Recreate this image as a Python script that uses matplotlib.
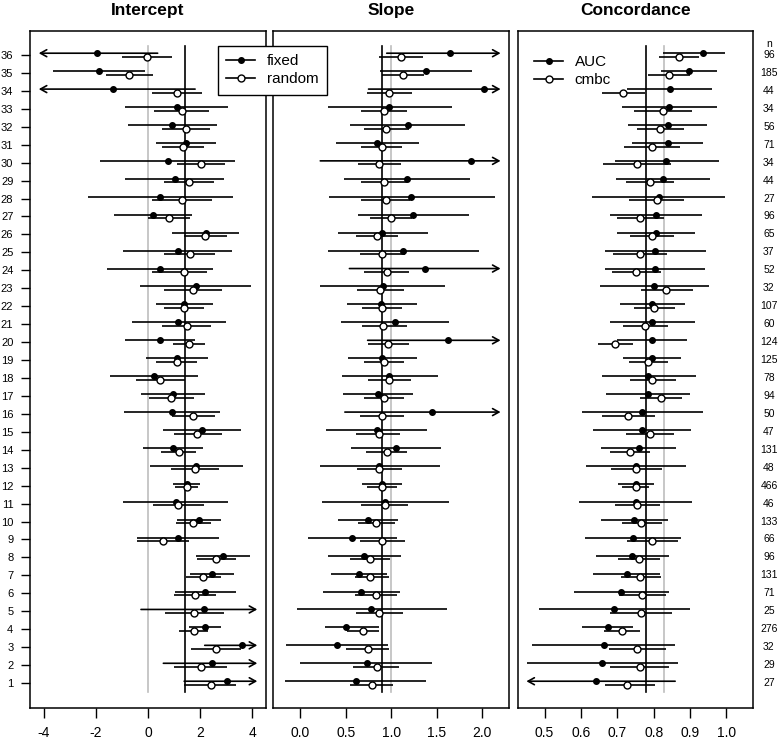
"""Forest-style plot of intercept, slope and concordance per study."""

import matplotlib

matplotlib.use("Agg")
import matplotlib.pyplot as plt
from matplotlib.lines import Line2D

plt.rcParams["font.family"] = ["Liberation Sans", "DejaVu Sans"]

# rows listed from top (36) to bottom (1)
rows = list(range(36, 0, -1))
n_obs = [96, 185, 44, 34, 56, 71, 34, 44, 27, 96, 65, 37, 52, 32, 107, 60, 124, 125,
         78, 94, 50, 47, 131, 48, 466, 46, 133, 66, 96, 131, 71, 25, 276, 32, 29, 27]

int_fix = [-1.97, -1.89, -1.34, 1.10, 0.93, 1.46, 0.75, 1.02, 0.47, 0.19, 2.22, 1.14,
           0.47, 1.84, 1.39, 1.17, 0.46, 1.11, 0.23, 0.96, 0.91, 2.07, 0.96, 1.86,
           1.49, 1.06, 1.95, 1.15, 2.89, 2.45, 2.21, 2.16, 2.20, 3.63, 2.45, 3.05]
int_fix_lo = [-4.31, -3.65, -4.49, -0.87, -0.77, 0.31, -1.85, -0.87, -2.32, -1.30, 0.92, -0.96,
              -1.56, -0.31, 0.29, -0.61, -0.87, -0.09, -1.47, -0.27, -0.93, 0.56, -0.18, 0.09,
              0.97, -0.95, 1.10, -0.42, 1.84, 1.62, 1.03, -0.27, 1.58, 2.18, 0.59, 1.39]
int_fix_hi = [0.37, -0.11, 1.81, 3.07, 2.64, 2.61, 3.36, 2.92, 3.27, 1.71, 3.51, 3.24,
              2.49, 3.97, 2.50, 2.98, 1.79, 2.31, 1.94, 2.21, 2.75, 3.59, 2.11, 3.64,
              2.01, 3.08, 2.82, 2.73, 3.93, 3.31, 3.37, 4.59, 2.81, 5.08, 4.31, 4.71]
int_ran = [-0.05, -0.72, 1.10, 1.29, 1.47, 1.35, 2.03, 1.57, 1.30, 0.80, 2.18, 1.60,
           1.37, 1.74, 1.37, 1.48, 1.57, 1.10, 0.47, 0.89, 1.74, 1.90, 1.19, 1.79,
           1.49, 1.15, 1.74, 0.57, 2.62, 2.13, 1.81, 1.78, 1.75, 2.63, 2.02, 2.41]
int_ran_lo = [-1.01, -1.60, 0.14, 0.24, 0.55, 0.55, 1.11, 0.60, 0.15, -0.01, 1.37, 0.60,
              0.14, 0.63, 0.60, 0.54, 0.95, 0.29, -0.47, 0.03, 0.92, 0.98, 0.51, 0.87,
              1.05, 0.18, 1.07, -0.42, 1.88, 1.47, 0.98, 0.65, 1.20, 1.67, 0.98, 1.39]
int_ran_hi = [0.91, 0.18, 2.06, 2.36, 2.39, 2.17, 2.96, 2.54, 2.45, 1.61, 3.03, 2.58,
              2.27, 2.86, 2.15, 2.44, 2.20, 1.90, 1.43, 1.75, 2.57, 2.84, 1.86, 2.72,
              1.93, 2.15, 2.41, 1.57, 3.37, 2.80, 2.63, 2.91, 2.29, 3.59, 3.05, 3.38]

slo_fix = [1.65, 1.38, 2.02, 0.98, 1.18, 0.84, 1.88, 1.17, 1.22, 1.24, 0.90, 1.13,
           1.37, 0.91, 0.89, 1.04, 1.62, 0.90, 0.98, 0.85, 1.45, 0.84, 1.05, 0.87,
           0.90, 0.93, 0.74, 0.57, 0.70, 0.65, 0.67, 0.78, 0.50, 0.40, 0.73, 0.61]
slo_fix_lo = [0.95, 0.88, 0.75, 0.30, 0.55, 0.39, 0.22, 0.48, 0.32, 0.63, 0.41, 0.31,
              0.54, 0.22, 0.51, 0.45, 0.74, 0.52, 0.46, 0.47, 0.49, 0.28, 0.56, 0.22,
              0.68, 0.24, 0.41, 0.08, 0.30, 0.34, 0.25, -0.04, 0.27, -0.16, 0.00, -0.17]
slo_fix_hi = [2.35, 1.89, 3.29, 1.67, 1.81, 1.30, 3.54, 1.86, 2.14, 1.85, 1.40, 1.96,
              2.25, 1.59, 1.28, 1.63, 2.50, 1.28, 1.51, 1.24, 2.41, 1.39, 1.55, 1.54,
              1.12, 1.63, 1.07, 1.06, 1.11, 0.95, 1.10, 1.61, 0.87, 0.96, 1.45, 1.38]
slo_ran = [1.11, 1.13, 0.98, 0.92, 0.94, 0.90, 0.87, 0.92, 0.94, 1.00, 0.84, 0.90,
           0.95, 0.88, 0.90, 0.91, 0.96, 0.92, 0.98, 0.92, 0.90, 0.86, 0.95, 0.87,
           0.90, 0.93, 0.83, 0.90, 0.77, 0.77, 0.83, 0.87, 0.69, 0.74, 0.84, 0.79]
slo_ran_lo = [0.87, 0.90, 0.73, 0.67, 0.70, 0.67, 0.63, 0.67, 0.67, 0.77, 0.61, 0.66,
              0.70, 0.62, 0.68, 0.68, 0.74, 0.70, 0.74, 0.70, 0.66, 0.61, 0.72, 0.62,
              0.73, 0.67, 0.63, 0.66, 0.55, 0.60, 0.60, 0.61, 0.51, 0.50, 0.58, 0.55]
slo_ran_hi = [1.35, 1.36, 1.23, 1.17, 1.19, 1.12, 1.11, 1.17, 1.20, 1.23, 1.07, 1.15,
              1.19, 1.14, 1.12, 1.17, 1.19, 1.14, 1.22, 1.14, 1.14, 1.10, 1.17, 1.12,
              1.06, 1.18, 1.04, 1.15, 0.99, 0.98, 1.06, 1.13, 0.87, 0.98, 1.09, 1.02]

auc = [0.936, 0.896, 0.844, 0.843, 0.838, 0.838, 0.835, 0.826, 0.814, 0.806, 0.806, 0.804,
       0.804, 0.802, 0.796, 0.796, 0.795, 0.795, 0.785, 0.785, 0.769, 0.767, 0.759, 0.751,
       0.751, 0.750, 0.747, 0.744, 0.739, 0.726, 0.711, 0.691, 0.673, 0.662, 0.659, 0.642]
auc_lo = [0.825, 0.820, 0.727, 0.712, 0.730, 0.740, 0.693, 0.697, 0.631, 0.680, 0.699, 0.666,
          0.666, 0.653, 0.708, 0.680, 0.698, 0.715, 0.657, 0.669, 0.604, 0.632, 0.656, 0.613,
          0.703, 0.594, 0.655, 0.612, 0.640, 0.634, 0.581, 0.484, 0.603, 0.465, 0.452, 0.425]
auc_hi = [0.996, 0.973, 0.961, 0.973, 0.947, 0.936, 0.979, 0.954, 0.997, 0.933, 0.913, 0.943,
          0.940, 0.951, 0.885, 0.913, 0.891, 0.875, 0.916, 0.899, 0.935, 0.903, 0.861, 0.890,
          0.801, 0.905, 0.838, 0.876, 0.842, 0.818, 0.842, 0.899, 0.744, 0.859, 0.866, 0.859]
cmbc = [0.870, 0.843, 0.716, 0.826, 0.818, 0.795, 0.754, 0.789, 0.809, 0.763, 0.795, 0.762,
        0.751, 0.835, 0.802, 0.777, 0.694, 0.785, 0.796, 0.820, 0.730, 0.790, 0.736, 0.751,
        0.750, 0.755, 0.766, 0.795, 0.759, 0.763, 0.767, 0.765, 0.712, 0.754, 0.762, 0.727]
cmbc_lo = [0.815, 0.785, 0.658, 0.747, 0.754, 0.718, 0.660, 0.724, 0.733, 0.699, 0.734, 0.689,
           0.685, 0.765, 0.747, 0.716, 0.647, 0.732, 0.734, 0.762, 0.657, 0.723, 0.680, 0.682,
           0.714, 0.693, 0.712, 0.726, 0.702, 0.710, 0.704, 0.681, 0.664, 0.678, 0.681, 0.666]
cmbc_hi = [0.925, 0.901, 0.776, 0.905, 0.882, 0.872, 0.848, 0.855, 0.884, 0.829, 0.857, 0.836,
           0.820, 0.907, 0.859, 0.839, 0.743, 0.838, 0.861, 0.879, 0.804, 0.857, 0.791, 0.822,
           0.788, 0.818, 0.822, 0.866, 0.817, 0.820, 0.833, 0.850, 0.762, 0.833, 0.843, 0.803]

GRAY = "#bebebe"
LW = 1.2
MS_FIX = 4.0
MS_RAN = 5.0


def draw_ci(ax, y, lo, hi, xmin, xmax):
    """Draw one interval, with an arrow where it runs past the clip range."""
    lo_c, hi_c = max(lo, xmin), min(hi, xmax)
    if hi > xmax or lo < xmin:
        start, end = (lo_c, hi_c) if hi > xmax else (hi_c, lo_c)
        ax.annotate("", xy=(end, y), xytext=(start, y),
                    arrowprops=dict(arrowstyle="->,head_length=0.45,head_width=0.25",
                                    lw=LW, color="black", shrinkA=0, shrinkB=0))
    else:
        ax.plot([lo_c, hi_c], [y, y], color="black", lw=LW, solid_capstyle="butt")


def panel(ax, title, fix, fix_lo, fix_hi, ran, ran_lo, ran_hi, clip, gray_x, black_x, ticks, fmt):
    """Fill one panel of the figure."""
    xmin, xmax = clip
    ax.plot([gray_x, gray_x], [0.5, 36.5], color=GRAY, lw=LW)
    ax.plot([black_x, black_x], [0.5, 36.5], color="black", lw=LW)
    for i, r in enumerate(rows):
        draw_ci(ax, r + 0.1, fix_lo[i], fix_hi[i], xmin, xmax)
        draw_ci(ax, r - 0.1, ran_lo[i], ran_hi[i], xmin, xmax)
    ax.plot(fix, [r + 0.1 for r in rows], "o", color="black", ms=MS_FIX, ls="none", zorder=4)
    ax.plot(ran, [r - 0.1 for r in rows], "o", mfc="white", mec="black", mew=1.0,
            ms=MS_RAN, ls="none", zorder=5)
    pad = (xmax - xmin) * 0.04
    ax.set_xlim(xmin - pad, xmax + pad)
    ax.set_ylim(-0.394, 37.354)
    ax.set_xticks(ticks)
    ax.set_xticklabels([fmt.format(t) for t in ticks])
    ax.tick_params(axis="x", length=7.2, width=1.0, pad=6, labelsize=10)
    ax.set_yticks([])
    for s in ax.spines.values():
        s.set_linewidth(1.1)
    ax.set_title(title, fontweight="bold", fontsize=12.5, pad=11)


fig = plt.figure(figsize=(7.78, 7.40), dpi=100)
ax1 = fig.add_axes([0.0386, 0.0432, 0.3033, 0.9153])
ax2 = fig.add_axes([0.3513, 0.0432, 0.3033, 0.9153])
ax3 = fig.add_axes([0.6654, 0.0432, 0.3029, 0.9153])

panel(ax1, "Intercept", int_fix, int_fix_lo, int_fix_hi, int_ran, int_ran_lo, int_ran_hi,
      (-4.2, 4.2), 0.0, 1.43, [-4, -2, 0, 2, 4], "{:g}")
panel(ax2, "Slope", slo_fix, slo_fix_lo, slo_fix_hi, slo_ran, slo_ran_lo, slo_ran_hi,
      (-0.2, 2.2), 1.0, 0.90, [0.0, 0.5, 1.0, 1.5, 2.0], "{:.1f}")
panel(ax3, "Concordance", auc, auc_lo, auc_hi, cmbc, cmbc_lo, cmbc_hi,
      (0.45, 1.05), 0.829, 0.779, [0.5, 0.6, 0.7, 0.8, 0.9, 1.0], "{:.1f}")

ax1.set_yticks(rows)
ax1.set_yticklabels([str(r) for r in rows])
ax1.tick_params(axis="y", length=6.5, width=1.0, pad=5.5, labelsize=8)

tr = ax3.get_yaxis_transform()
ax3.text(1.066, 36.62, "n", transform=tr, ha="center", va="center", fontsize=7.5)
for r, n in zip(rows, n_obs):
    ax3.text(1.066, r, str(n), transform=tr, ha="center", va="center", fontsize=7.5)

h_fix = Line2D([], [], color="black", lw=LW, marker="o", ms=MS_FIX)
h_ran = Line2D([], [], color="black", lw=LW, marker="o", ms=MS_RAN, mfc="white", mew=1.0)
leg_kw = dict(loc="upper left", fontsize=11, handlelength=1.9, handletextpad=0.75,
              labelspacing=0.25, borderaxespad=0, borderpad=0.55)
leg1 = fig.legend([h_fix, h_ran], ["fixed", "random"], bbox_to_anchor=(0.2802, 0.9378),
                  fancybox=False, edgecolor="black", framealpha=1, **leg_kw)
leg1.get_frame().set_linewidth(1.0)
fig.legend([h_fix, h_ran], ["AUC", "cmbc"], bbox_to_anchor=(0.676, 0.9365),
           frameon=False, **leg_kw)

fig.savefig("out.png", dpi=100)
